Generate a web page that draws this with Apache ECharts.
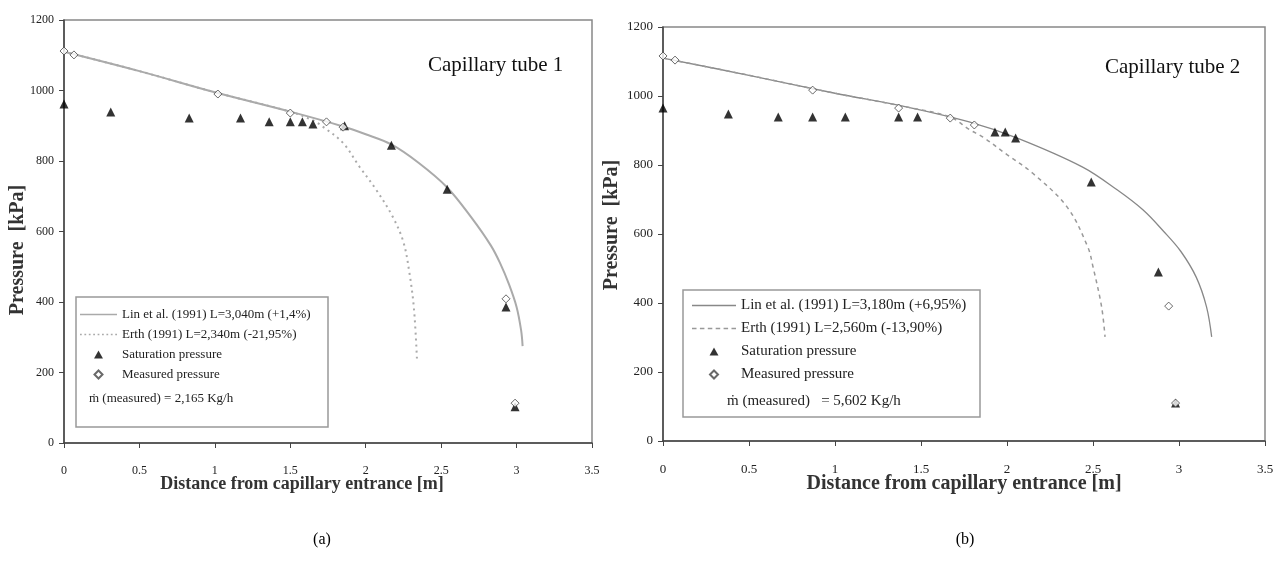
<!DOCTYPE html>
<html><head><meta charset="utf-8">
<script src="https://cdn.jsdelivr.net/npm/echarts@6/dist/echarts.min.js"></script>
<style>html,body{margin:0;padding:0;background:#fff}#c{width:1287px;height:569px}</style>
</head><body><div id="c"></div>
<script>
// ---- Chart (a) : Capillary tube 1 ----
const linA = [[0,1110],[0.5,1055],[1,995],[1.5,940],[1.85,898],[2.0,876],[2.17,847],[2.35,795],[2.54,725],[2.7,640],[2.83,560],[2.89,511],[2.95,450],[3.0,386],[3.03,320],[3.04,275]];
const erthA = [[0,1110],[0.5,1055],[1,995],[1.5,940],[1.65,915],[1.72,896],[1.85,851],[1.96,783],[2.07,718],[2.18,641],[2.25,570],[2.29,482],[2.32,380],[2.34,235]];
const satA = [[0,962],[0.31,939],[0.83,922],[1.17,922],[1.36,911],[1.50,911],[1.58,911],[1.65,905],[1.86,900],[2.17,845],[2.54,720],[2.93,386],[2.99,103]];
const measA = [[0,1112],[0.066,1101],[1.02,990],[1.50,936],[1.74,911],[1.85,896],[2.93,409],[2.99,113]];
// ---- Chart (b) : Capillary tube 2 ----
const linB = [[0,1110],[0.5,1060],[1,1008],[1.42,968],[1.78,925],[2.06,878],[2.44,794],[2.64,728],[2.79,670],[2.91,608],[3.01,550],[3.10,475],[3.16,389],[3.19,302]];
const erthB = [[0,1110],[0.5,1060],[1,1008],[1.42,968],[1.67,939],[1.78,903],[1.86,881],[2.0,830],[2.15,776],[2.35,678],[2.47,562],[2.5,505],[2.55,389],[2.57,302]];
const satB = [[0,965],[0.38,948],[0.67,939],[0.87,939],[1.06,939],[1.37,939],[1.48,939],[1.93,896],[1.99,896],[2.05,878],[2.49,751],[2.88,490],[2.98,110]];
const measB = [[0,1116],[0.07,1104],[0.87,1017],[1.37,965],[1.67,936],[1.81,916],[2.94,391],[2.98,110]];

const namesA = ['Lin et al. (1991) L=3,040m (+1,4%)','Erth (1991) L=2,340m (-21,95%)'];
const namesB = ['Lin et al. (1991) L=3,180m (+6,95%)','Erth (1991) L=2,560m (-13,90%)'];
const satName = 'Saturation pressure', measName = 'Measured pressure';
const flowA = 'ṁ (measured) = 2,165 Kg/h';
const flowB = 'ṁ (measured)   = 5,602 Kg/h';
const titles = ['Capillary tube 1','Capillary tube 2'];
const xTitle = 'Distance from capillary entrance [m]';
const yTitle = 'Pressure  [kPa]';
const panelLabels = ['(a)','(b)'];

const FF = 'Liberation Serif, Times New Roman, serif';
const triIcon = 'path://M5,0L10,9L0,9Z';
const diaIcon = 'path://M4,0L8,4L4,8L0,4Z';
function segIcon(total, dash, gap, h){
  let p = '';
  for (let x = 0; x < total; x += dash + gap) {
    const w = Math.min(dash, total - x);
    p += 'M' + x + ',0h' + w + 'v' + h + 'h' + (-w) + 'z';
  }
  return 'path://' + p;
}
const solidIcon = segIcon(42, 42, 0, 1.6);

function xAx(idx, fs){
  return {gridIndex: idx, type:'value', min:0, max:3.5, interval:0.5,
    axisLine:{show:true, onZero:false, lineStyle:{color:'#444', width:1.5}},
    axisTick:{show:true, length:5, lineStyle:{color:'#444'}},
    axisLabel:{fontFamily:FF, fontSize:fs, color:'#222', margin:22},
    splitLine:{show:false}};
}
function yAx(idx, fs){
  return {gridIndex: idx, type:'value', min:0, max:1200, interval:200,
    axisLine:{show:true, onZero:false, lineStyle:{color:'#444', width:1.5}},
    axisTick:{show:true, length:5, lineStyle:{color:'#444'}},
    axisLabel:{fontFamily:FF, fontSize:fs, color:'#222', margin:10, formatter:v => String(v)},
    splitLine:{show:false}};
}
function lineS(name, data, idx, color, width, type){
  return {name, type:'line', xAxisIndex:idx, yAxisIndex:idx, data, symbol:'none',
    smooth:0.35, lineStyle:{color, width, type}, itemStyle:{color}, z:2};
}
function satS(data, idx){
  return {name:satName, type:'scatter', xAxisIndex:idx, yAxisIndex:idx, data, symbol:'triangle',
    symbolSize:9, itemStyle:{color:'#000'}, z:3};
}
function measS(data, idx){
  return {name:measName, type:'scatter', xAxisIndex:idx, yAxisIndex:idx, data, symbol:'diamond',
    symbolSize:8, itemStyle:{color:'#fff', borderColor:'#444', borderWidth:1}, z:4};
}

const option = {
  animation:false,
  backgroundColor:'#fff',
  grid:[
    {left:64, top:20, width:528, height:423, show:true, borderColor:'#888', borderWidth:1.5, backgroundColor:'transparent'},
    {left:663, top:27, width:602, height:414, show:true, borderColor:'#888', borderWidth:1.5, backgroundColor:'transparent'}
  ],
  xAxis:[xAx(0,12), xAx(1,13)],
  yAxis:[yAx(0,12), yAx(1,13)],
  legend:[
    {left:80, top:308, orient:'vertical', padding:0, itemWidth:37, itemHeight:8, itemGap:7,
     textStyle:{fontFamily:FF, fontSize:13, color:'#222'},
     data:[{name:namesA[0], icon:solidIcon},{name:namesA[1], icon:segIcon(42,2,3,1.6)},{name:satName, icon:triIcon},{name:measName, icon:diaIcon}]},
    {left:692, top:298, orient:'vertical', padding:0, itemWidth:44, itemHeight:8, itemGap:8,
     textStyle:{fontFamily:FF, fontSize:15, color:'#222'},
     data:[{name:namesB[0], icon:solidIcon},{name:namesB[1], icon:segIcon(42,4,3,1.4)},{name:satName, icon:triIcon},{name:measName, icon:diaIcon}]}
  ],
  series:[
    lineS(namesA[0], linA, 0, '#aaa', 2, 'solid'),
    lineS(namesA[1], erthA, 0, '#aaa', 2, [2,4]),
    satS(satA, 0), measS(measA, 0),
    lineS(namesB[0], linB, 1, '#888', 1.3, 'solid'),
    lineS(namesB[1], erthB, 1, '#999', 1.5, [4,4]),
    satS(satB, 1), measS(measB, 1)
  ],
  graphic:[
    {type:'rect', shape:{x:76, y:297, width:252, height:130}, style:{fill:'transparent', stroke:'#999', lineWidth:1.5}, z:1},
    {type:'rect', shape:{x:683, y:290, width:297, height:127}, style:{fill:'transparent', stroke:'#999', lineWidth:1.5}, z:1},
    {type:'text', x:89, y:399, style:{text:flowA, font:'13px '+FF, fill:'#222', textVerticalAlign:'middle'}},
    {type:'text', x:727, y:401, style:{text:flowB, font:'15px '+FF, fill:'#222', textVerticalAlign:'middle'}},
    {type:'text', x:428, y:65, style:{text:titles[0], font:'21px '+FF, fill:'#111', textVerticalAlign:'middle'}},
    {type:'text', x:1105, y:67, style:{text:titles[1], font:'21px '+FF, fill:'#111', textVerticalAlign:'middle'}},
    {type:'text', x:302, y:484, style:{text:xTitle, font:'bold 18px '+FF, fill:'#333', textAlign:'center', textVerticalAlign:'middle'}},
    {type:'text', x:964, y:484, style:{text:xTitle, font:'bold 20px '+FF, fill:'#333', textAlign:'center', textVerticalAlign:'middle'}},
    {type:'text', x:18, y:250, rotation:Math.PI/2, style:{text:yTitle, font:'bold 20px '+FF, fill:'#333', textAlign:'center', textVerticalAlign:'middle'}},
    {type:'text', x:612, y:225, rotation:Math.PI/2, style:{text:yTitle, font:'bold 20px '+FF, fill:'#333', textAlign:'center', textVerticalAlign:'middle'}},
    {type:'text', x:322, y:540, style:{text:panelLabels[0], font:'16px '+FF, fill:'#000', textAlign:'center', textVerticalAlign:'middle'}},
    {type:'text', x:965, y:540, style:{text:panelLabels[1], font:'16px '+FF, fill:'#000', textAlign:'center', textVerticalAlign:'middle'}}
  ]
};
const chart = echarts.init(document.getElementById('c'), null, {renderer:'canvas'});
chart.setOption(option);
</script>
</body></html>
